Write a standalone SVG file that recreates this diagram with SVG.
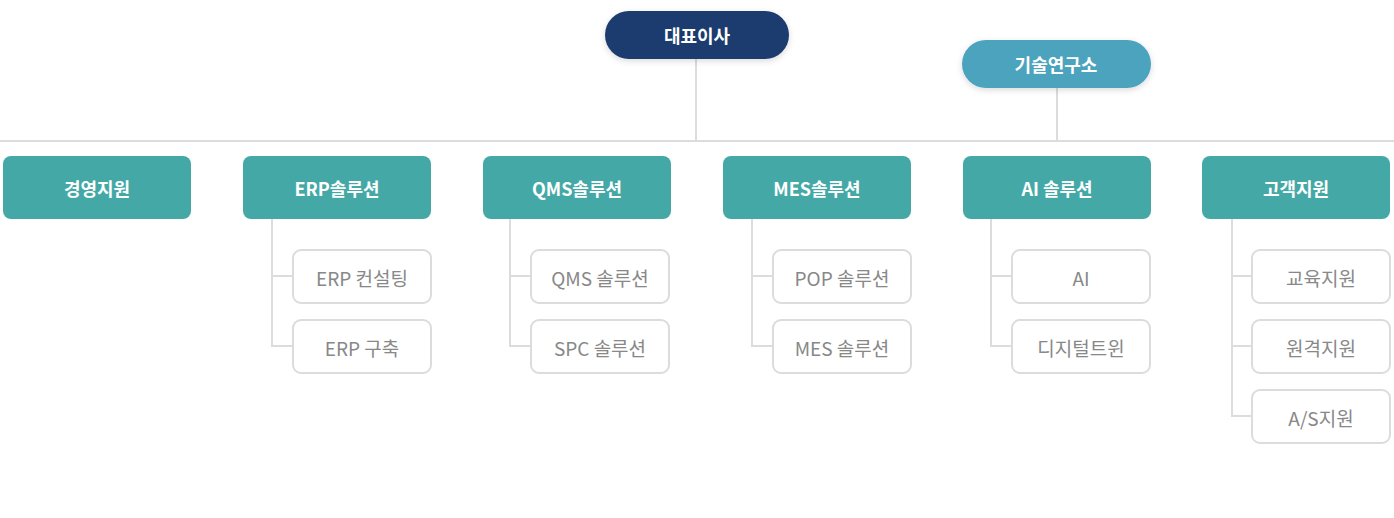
<svg xmlns="http://www.w3.org/2000/svg" width="1394" height="518" viewBox="0 0 1394 518">
<defs>
<filter id="sh" x="-20%" y="-40%" width="140%" height="180%"><feDropShadow dx="0" dy="2" stdDeviation="3" flood-color="#000" flood-opacity="0.15"/></filter>
<style>
text{font-family:"Noto Sans CJK KR","Noto Sans",sans-serif;text-anchor:middle;dominant-baseline:central}
.d rect{fill:#44a9a6}
.d text,.top text{fill:#fff;font-size:18px;font-weight:700}
.s rect{fill:#fff;stroke:#dcdcdc;stroke-width:2}
.s text{fill:#888;font-size:19px}
.c{stroke:#dcdcdc;stroke-width:2;fill:none}
</style>
</defs>
<rect width="1394" height="518" fill="#fff"/>
<g id="connectors" class="c">
<path d="M0 141H1394M696 59V141M1057 88V141"/>
<path d="M272 219V346H292M272 276H292"/>
<path d="M510 219V346H530M510 276H530"/>
<path d="M752 219V346H772M752 276H772"/>
<path d="M991 219V346H1011M991 276H1011"/>
<path d="M1232 219V416H1251M1232 276H1251M1232 346H1251"/>
</g>
<g id="ceo" class="top"><rect x="605" y="11" width="184" height="48" rx="24" fill="#1a3a6e" filter="url(#sh)"/><text x="697" y="35">대표이사</text></g>
<g id="lab" class="top"><rect x="962" y="40" width="189" height="48" rx="24" fill="#4ba3bd" filter="url(#sh)"/><text x="1056" y="64">기술연구소</text></g>
<g id="d1" class="d"><rect x="3" y="156" width="188" height="63" rx="8"/><text x="97" y="188">경영지원</text></g>
<g id="d2" class="d"><rect x="243" y="156" width="188" height="63" rx="8"/><text x="337" y="188">ERP솔루션</text></g>
<g id="d3" class="d"><rect x="483" y="156" width="188" height="63" rx="8"/><text x="577" y="188">QMS솔루션</text></g>
<g id="d4" class="d"><rect x="723" y="156" width="188" height="63" rx="8"/><text x="817" y="188">MES솔루션</text></g>
<g id="d5" class="d"><rect x="963" y="156" width="188" height="63" rx="8"/><text x="1057" y="188">AI 솔루션</text></g>
<g id="d6" class="d"><rect x="1202" y="156" width="188" height="63" rx="8"/><text x="1296" y="188">고객지원</text></g>
<g id="s1" class="s"><rect x="293" y="250" width="138" height="53" rx="8"/><text x="362" y="277">ERP 컨설팅</text></g>
<g id="s2" class="s"><rect x="293" y="320" width="138" height="53" rx="8"/><text x="362" y="347">ERP 구축</text></g>
<g id="s3" class="s"><rect x="531" y="250" width="138" height="53" rx="8"/><text x="600" y="277">QMS 솔루션</text></g>
<g id="s4" class="s"><rect x="531" y="320" width="138" height="53" rx="8"/><text x="600" y="347">SPC 솔루션</text></g>
<g id="s5" class="s"><rect x="773" y="250" width="138" height="53" rx="8"/><text x="842" y="277">POP 솔루션</text></g>
<g id="s6" class="s"><rect x="773" y="320" width="138" height="53" rx="8"/><text x="842" y="347">MES 솔루션</text></g>
<g id="s7" class="s"><rect x="1012" y="250" width="138" height="53" rx="8"/><text x="1081" y="277">AI</text></g>
<g id="s8" class="s"><rect x="1012" y="320" width="138" height="53" rx="8"/><text x="1081" y="347">디지털트윈</text></g>
<g id="s9" class="s"><rect x="1252" y="250" width="138" height="53" rx="8"/><text x="1321" y="277">교육지원</text></g>
<g id="s10" class="s"><rect x="1252" y="320" width="138" height="53" rx="8"/><text x="1321" y="347">원격지원</text></g>
<g id="s11" class="s"><rect x="1252" y="390" width="138" height="53" rx="8"/><text x="1321" y="417">A/S지원</text></g>
</svg>
